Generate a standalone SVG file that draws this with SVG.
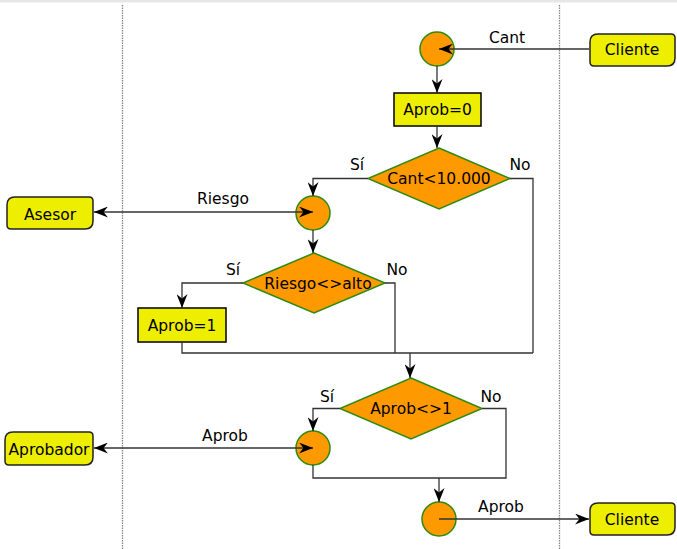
<svg xmlns="http://www.w3.org/2000/svg" width="677" height="549" viewBox="0 0 677 549">
<style>
text{font-family:"DejaVu Sans","Liberation Sans",sans-serif;font-size:15.5px;fill:#000;text-anchor:middle}
.lbl{font-size:15.5px}
.circ{fill:#ff9900;stroke:#2e8b12;stroke-width:1.5}
.dia{fill:#ff9900;stroke:#2e8b12;stroke-width:1.5}
.box{fill:#eeee00;stroke:#000;stroke-width:1.5}
.term{fill:#eeee00;stroke:#222;stroke-width:1.5}
.con{fill:none;stroke:#333;stroke-width:1.3}
.lane{stroke:#888;stroke-width:1.3;stroke-dasharray:1.5 1}
</style>
<defs>
<marker id="ah" viewBox="0 0 14 11" refX="14" refY="5.5" markerWidth="14" markerHeight="11" markerUnits="userSpaceOnUse" orient="auto-start-reverse">
<path d="M0,0 L14,5.5 L0,11 L4.5,5.5 Z" fill="#000"/>
</marker>
</defs>
<rect x="0" y="0" width="677" height="2.5" fill="#e6e6e6"/>
<g id="lanes">
<line class="lane" x1="122.5" y1="5" x2="122.5" y2="549"/>
<line class="lane" x1="559.5" y1="5" x2="559.5" y2="549"/>
</g>
<g id="cliente1">
<path class="term" d="M598,34 H671 Q675,34 675,38 V58 Q675,66 667,66 H594 Q590,66 590,62 V42 Q590,34 598,34 Z"/>
<text x="632" y="54.5">Cliente</text>
</g>
<g id="start"><circle class="circ" cx="437" cy="49" r="17"/></g>
<g id="aprob0"><rect class="box" x="394" y="93" width="87" height="33"/><text x="437.5" y="115">Aprob=0</text></g>
<g id="d1"><polygon class="dia" points="439,148 510,178.5 439,209 368,178.5"/><text x="439" y="184">Cant&lt;10.000</text></g>
<g id="asesor">
<path class="term" d="M15,197 H89 Q93,197 93,201 V221 Q93,229 85,229 H11 Q7,229 7,225 V205 Q7,197 15,197 Z"/>
<text x="50" y="219.5">Asesor</text>
</g>
<g id="join1"><circle class="circ" cx="313" cy="213" r="17"/></g>
<g id="d2"><polygon class="dia" points="314,253 385,283 314,313 243,283"/><text x="318" y="288.5">Riesgo&lt;&gt;alto</text></g>
<g id="aprob1"><rect class="box" x="138" y="308" width="88" height="34"/><text x="182" y="330.5">Aprob=1</text></g>
<g id="d3"><polygon class="dia" points="411,378 482,408.5 411,439 340,408.5"/><text x="411" y="414">Aprob&lt;&gt;1</text></g>
<g id="aprobador">
<path class="term" d="M13,432 H89 Q93,432 93,436 V457 Q93,465 85,465 H9 Q5,465 5,461 V440 Q5,432 13,432 Z"/>
<text x="49" y="454.5">Aprobador</text>
</g>
<g id="join2"><circle class="circ" cx="313" cy="448" r="17"/></g>
<g id="end"><circle class="circ" cx="439" cy="519" r="17"/></g>
<g id="cliente2">
<path class="term" d="M598,503 H671 Q675,503 675,507 V527 Q675,535 667,535 H594 Q590,535 590,531 V511 Q590,503 598,503 Z"/>
<text x="632" y="524.5">Cliente</text>
</g>
<g id="connectors">
<path class="con" d="M589,49 H439" marker-end="url(#ah)"/>
<path class="con" d="M437,66 V93" marker-end="url(#ah)"/>
<path class="con" d="M437,126 V148" marker-end="url(#ah)"/>
<path class="con" d="M368,178.5 H313 V196" marker-end="url(#ah)"/>
<path class="con" d="M510,178.5 H533 V353"/>
<path class="con" d="M94,212 H313" marker-start="url(#ah)" marker-end="url(#ah)"/>
<path class="con" d="M313,230 V253" marker-end="url(#ah)"/>
<path class="con" d="M243,283 H182 V308" marker-end="url(#ah)"/>
<path class="con" d="M385,283 H395 V353"/>
<path class="con" d="M182,342 V353 H533"/>
<path class="con" d="M410,353 V378" marker-end="url(#ah)"/>
<path class="con" d="M340,408.5 H313 V431" marker-end="url(#ah)"/>
<path class="con" d="M482,408.5 H506 V478 H313 V465"/>
<path class="con" d="M439,478 V502" marker-end="url(#ah)"/>
<path class="con" d="M94,448 H313" marker-start="url(#ah)" marker-end="url(#ah)"/>
<path class="con" d="M439,519 H589" marker-end="url(#ah)"/>
<text class="lbl" x="507" y="43">Cant</text>
<text class="lbl" x="357" y="170">Sí</text>
<text class="lbl" x="520" y="170">No</text>
<text class="lbl" x="223" y="204">Riesgo</text>
<text class="lbl" x="233" y="275">Sí</text>
<text class="lbl" x="397" y="275">No</text>
<text class="lbl" x="327" y="402">Sí</text>
<text class="lbl" x="491" y="402">No</text>
<text class="lbl" x="225" y="441">Aprob</text>
<text class="lbl" x="501" y="512">Aprob</text>
</g>
</svg>
